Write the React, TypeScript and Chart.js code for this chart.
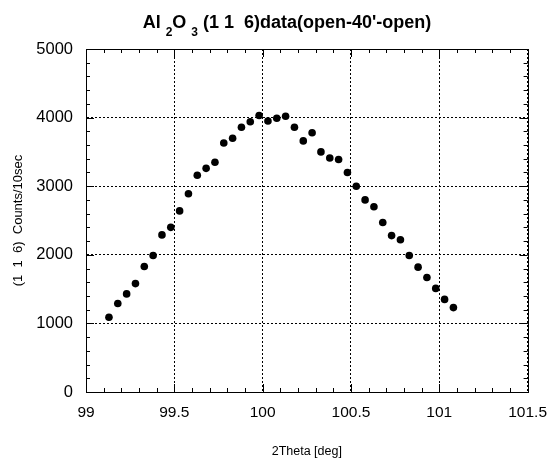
import { useEffect, useRef } from "react";
import { Chart, registerables } from "chart.js";

Chart.register(...registerables);

const twoTheta = [
  99.13, 99.18, 99.23, 99.28, 99.33, 99.38, 99.43, 99.48, 99.53, 99.58,
  99.63, 99.68, 99.73, 99.78, 99.83, 99.88, 99.93, 99.98, 100.03, 100.08,
  100.13, 100.18, 100.23, 100.28, 100.33, 100.38, 100.43, 100.48, 100.53, 100.58,
  100.63, 100.68, 100.73, 100.78, 100.83, 100.88, 100.93, 100.98, 101.03, 101.08,
];
const counts = [
  1090, 1290, 1430, 1580, 1830, 1990, 2290, 2400, 2640, 2890,
  3160, 3260, 3350, 3630, 3700, 3860, 3940, 4030, 3950, 3990,
  4020, 3860, 3660, 3780, 3500, 3410, 3390, 3200, 3000, 2800,
  2700, 2470, 2280, 2220, 1990, 1820, 1670, 1510, 1350, 1230,
];
const xMin = 99;
const xMax = 101.5;
const xMajorStep = 0.5;
const xMinorStep = 0.1;
const yMin = 0;
const yMax = 5000;
const yMajorStep = 1000;
const yMinorStep = 200;

const titleMain = "Al";
const titleSub1 = "2";
const titleMid = "O";
const titleSub2 = "3";
const titleRest = " (1 1  6)data(open-40'-open)";
const xTitle = "2Theta [deg]";
const yTitle = "(1  1  6)  Counts/10sec";

const FONT = '"Liberation Sans", Arial, Helvetica, sans-serif';

const framePlugin = {
  id: "frame",
  afterDraw(chart: any) {
    const { ctx, chartArea } = chart;
    const { left, right, top, bottom } = chartArea;
    const xs = chart.scales.x;
    const ys = chart.scales.y;
    ctx.save();
    ctx.strokeStyle = "#000";
    ctx.lineWidth = 1;
    ctx.strokeRect(Math.round(left) + 0.5, Math.round(top) + 0.5, Math.round(right - left), Math.round(bottom - top));
    ctx.beginPath();
    const nx = Math.round((xMax - xMin) / xMinorStep);
    for (let i = 0; i <= nx; i++) {
      const v = xMin + i * xMinorStep;
      const px = Math.round(xs.getPixelForValue(v)) + 0.5;
      const major = i % Math.round(xMajorStep / xMinorStep) === 0;
      const len = major ? 8 : 4;
      ctx.moveTo(px, bottom);
      ctx.lineTo(px, bottom - len);
      ctx.moveTo(px, top);
      ctx.lineTo(px, top + len);
    }
    const ny = Math.round((yMax - yMin) / yMinorStep);
    for (let i = 0; i <= ny; i++) {
      const v = yMin + i * yMinorStep;
      const py = Math.round(ys.getPixelForValue(v)) + 0.5;
      const major = i % Math.round(yMajorStep / yMinorStep) === 0;
      const len = major ? 8 : 4;
      ctx.moveTo(left, py);
      ctx.lineTo(left + len, py);
      ctx.moveTo(right, py);
      ctx.lineTo(right - len, py);
    }
    ctx.stroke();
    ctx.restore();
  },
};

const titlePlugin = {
  id: "subTitle",
  afterDraw(chart: any) {
    const ctx = chart.ctx;
    const big = `bold 18px ${FONT}`;
    const small = `bold 12px ${FONT}`;
    const parts: [string, string, number][] = [
      [titleMain + " ", big, 0],
      [titleSub1, small, 8],
      [titleMid + " ", big, 0],
      [titleSub2, small, 8],
      [titleRest, big, 0],
    ];
    ctx.save();
    let total = 0;
    const widths = parts.map(([t, f]) => {
      ctx.font = f;
      const w = ctx.measureText(t).width;
      total += w;
      return w;
    });
    let x = 287 - total / 2;
    const baseY = 28;
    ctx.fillStyle = "#000";
    ctx.textBaseline = "alphabetic";
    ctx.textAlign = "left";
    parts.forEach(([t, f, dy], i) => {
      ctx.font = f;
      ctx.fillText(t, x, baseY + dy);
      x += widths[i];
    });
    ctx.restore();
  },
};

export default function App() {
  const ref = useRef<HTMLCanvasElement>(null);
  useEffect(() => {
    if (!ref.current) return;
    const data = twoTheta.map((x, i) => ({ x, y: counts[i] }));
    const chart = new Chart(ref.current, {
      type: "scatter",
      data: {
        datasets: [
          {
            data,
            backgroundColor: "#000",
            borderColor: "#000",
            borderWidth: 0,
            pointRadius: 3.8,
          },
        ],
      },
      options: {
        responsive: false,
        animation: false,
        devicePixelRatio: 1,
        layout: { padding: { left: 0, right: 30, top: 49, bottom: 0 } },
        plugins: {
          legend: { display: false },
          title: { display: false },
          tooltip: { enabled: false },
        },
        scales: {
          x: {
            type: "linear",
            min: xMin,
            max: xMax,
            afterFit: (s: any) => {
              s.height = 71;
            },
            ticks: {
              stepSize: xMajorStep,
              padding: 11,
              color: "#000",
              font: { family: FONT, size: 15.5 },
              callback: (v: any) => String(Math.round(Number(v) * 10) / 10),
              maxRotation: 0,
              autoSkip: false,
            },
            grid: {
              color: "#000",
              lineWidth: 1,
              drawTicks: false,
            },
            border: { display: true, color: "#000", dash: [2, 2] },
            title: {
              display: true,
              text: xTitle,
              color: "#000",
              font: { family: FONT, size: 12.5 },
              padding: { top: 0, bottom: 4 },
            },
          },
          y: {
            type: "linear",
            min: yMin,
            max: yMax,
            afterFit: (s: any) => {
              s.width = 86;
            },
            ticks: {
              stepSize: yMajorStep,
              padding: 13,
              color: "#000",
              font: { family: FONT, size: 16.5 },
              callback: (v: any) => String(v),
            },
            grid: {
              color: "#000",
              lineWidth: 1,
              drawTicks: false,
            },
            border: { display: true, color: "#000", dash: [2, 2] },
            title: {
              display: true,
              text: yTitle,
              color: "#000",
              font: { family: FONT, size: 13 },
              padding: { top: 11, bottom: 0 },
            },
          },
        },
      },
      plugins: [framePlugin, titlePlugin],
    });
    return () => chart.destroy();
  }, []);
  return (
    <div style={{ position: "absolute", left: 0, top: 0, width: 558, height: 463, background: "#fff" }}>
      <canvas ref={ref} width={558} height={463} style={{ display: "block" }} />
    </div>
  );
}
